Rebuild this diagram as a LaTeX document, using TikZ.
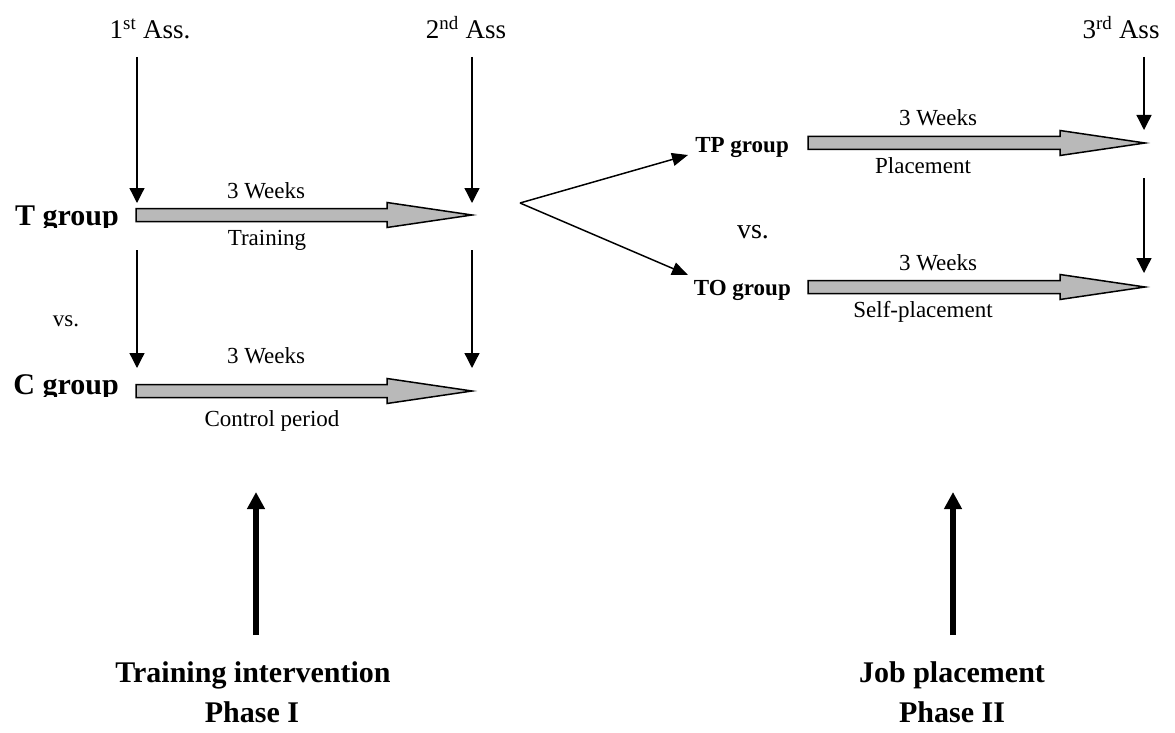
\documentclass[tikz,border=0pt]{standalone}
\usepackage{fontspec}
\setmainfont{Liberation Serif}
\usetikzlibrary{arrows.meta}
\tikzset{
  txt/.style={inner sep=0pt, anchor=base, font=\fontsize{23}{27}\selectfont},
  big/.style={inner sep=0pt, anchor=base, font=\fontsize{27}{32}\selectfont},
  grp/.style={inner sep=0pt, anchor=base east, font=\fontsize{30}{36}\selectfont\bfseries},
  sgrp/.style={inner sep=0pt, anchor=base east, font=\fontsize{23}{27}\selectfont\bfseries},
  phase/.style={inner sep=0pt, anchor=base, font=\fontsize{30}{36}\selectfont\bfseries},
  down/.style={line width=1.3pt, -{Triangle[length=15pt,width=15pt]}},
  fan/.style={line width=1.5pt, -{Triangle[length=16pt,width=13pt]}},
  up/.style={line width=6pt, -{Triangle[length=17pt,width=17pt]}},
  blk/.style={draw=black, line width=1.5pt, fill=gray!55, line join=miter},
}
\newcommand\blkarrow[3]{%
  \filldraw[blk] (#1,#3-6.5) -- (#2-85,#3-6.5) -- (#2-85,#3-12.5) -- (#2,#3)
    -- (#2-85,#3+12.5) -- (#2-85,#3+6.5) -- (#1,#3+6.5) -- cycle;}
\begin{document}
\begin{tikzpicture}[x=1pt,y=-1pt]
\useasboundingbox (0,0) rectangle (1175,733);
% assessments
\node[big] (a1) at (150,39) {1\textsuperscript{st} Ass.};
\node[big] (a2) at (466,39) {2\textsuperscript{nd} Ass};
\node[big] (a3) at (1121,39) {3\textsuperscript{rd} Ass};
% coordinates
\coordinate (a1s) at (137,57);  \coordinate (t1) at (137,203);
\coordinate (a2s) at (472,57);  \coordinate (t2) at (472,203);
\coordinate (t1b) at (137,250); \coordinate (c1) at (137,368);
\coordinate (t2b) at (472,250); \coordinate (c2) at (472,368);
\coordinate (a3s) at (1144,57); \coordinate (tp3) at (1144,130);
\coordinate (tp3b) at (1144,178); \coordinate (to3) at (1144,273);
\draw[down] (a1s) -- (t1);
\draw[down] (a2s) -- (t2);
\draw[down] (t1b) -- (c1);
\draw[down] (t2b) -- (c2);
\draw[down] (a3s) -- (tp3);
\draw[down] (tp3b) -- (to3);
% groups
\begin{scope}
\clip (0,190) rectangle (130,227);
\node[grp] (tg) at (119,225) {T group};
\end{scope}
\begin{scope}
\clip (0,360) rectangle (130,396);
\node[grp] (cg) at (119,394) {C group};
\end{scope}
\node[txt] (vs1) at (66,326) {vs.};
\blkarrow{136}{472}{215}
\node[txt] (w1) at (266,198) {3 Weeks};
\node[txt] (tr) at (267,245) {Training};
\blkarrow{136}{472}{391}
\node[txt] (w2) at (266,363) {3 Weeks};
\node[txt] (cp) at (272,426) {Control period};
% fan
\coordinate (fo) at (520,203);
\coordinate (tpt) at (688,155);
\coordinate (tot) at (688,275);
\draw[fan] (fo) -- (tpt);
\draw[fan] (fo) -- (tot);
\node[sgrp] (tpg) at (789,153) {TP group};
\node[sgrp] (tog) at (791,295) {TO group};
\node[txt, font=\fontsize{28}{32}\selectfont] (vs2) at (753,238) {vs.};
\blkarrow{808}{1145}{143}
\node[txt] (w3) at (938,126) {3 Weeks};
\node[txt] (pl) at (923,173) {Placement};
\blkarrow{808}{1145}{287}
\node[txt] (w4) at (938,270) {3 Weeks};
\node[txt] (sp) at (923,317) {Self-placement};
% phases
\coordinate (u1s) at (256,635); \coordinate (u1e) at (256,492);
\coordinate (u2s) at (953,635); \coordinate (u2e) at (953,492);
\draw[up] (u1s) -- (u1e);
\draw[up] (u2s) -- (u2e);
\node[phase] (p1a) at (253,682) {Training intervention};
\node[phase] (p1b) at (252,722) {Phase I};
\node[phase] (p2a) at (952,682) {Job placement};
\node[phase] (p2b) at (952,722) {Phase II};
\end{tikzpicture}
\end{document}
